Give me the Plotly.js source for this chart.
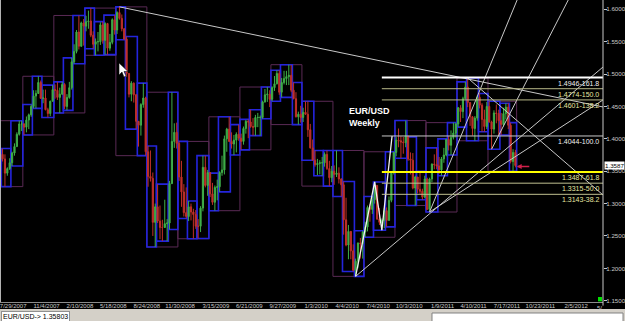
<!DOCTYPE html>
<html><head><meta charset="utf-8">
<script src="https://cdn.plot.ly/plotly-3.0.1.min.js"></script>
<style>html,body{margin:0;padding:0;background:#000;overflow:hidden}#chart{width:625px;height:321px}</style>
</head><body><div id="chart"></div>
<script>
// Weekly EUR/USD bars, week starting 2007-07-29
const firstWeek = '2007-07-29';
const opens = [
1.3680,1.3760,1.3690,1.3470,1.3540,1.3630,1.3780,1.3880,1.4070,1.4230,
1.4230,1.4180,1.4290,1.4370,1.4500,1.4660,1.4700,1.4870,1.4625,1.4630,
1.4450,1.4390,1.4580,
1.4760,1.4750,1.4640,1.4690,1.4840,1.4500,1.4640,1.4790,1.5190,1.5350,
1.5650,1.5430,1.5790,1.5740,1.5810,1.5820,1.5600,1.5460,1.5500,1.5500,
1.5760,1.5520,1.5780,1.5400,1.5490,1.5840,1.5680,1.5950,1.5860,1.5700,
1.5540,1.5010,1.4690,1.4860,1.4680,1.4270,1.4210,1.4530,1.4630,1.3800,
1.3420,1.3390,1.2710,1.2950,1.2730,1.2630,1.2630,1.2690,1.2700,1.3310,
1.3960,1.4100,
1.3930,1.3410,1.3180,1.2860,1.2800,1.2950,1.2870,1.2830,1.2650,1.2650,
1.2930,1.3560,1.3280,1.3480,1.3150,1.3020,1.3250,1.3260,1.3480,1.3520,
1.4000,1.4150,1.3960,1.3920,1.3980,1.4070,1.4010,1.3960,1.4160,1.4270,
1.4260,1.4190,1.4180,1.4330,1.4330,1.4330,1.4570,1.4680,1.4690,1.4610,
1.4790,1.4850,1.5010,1.4720,1.4870,1.4930,1.4960,1.4980,1.4750,1.4620,
1.4340,1.4380,
1.4330,1.4410,1.4380,1.4140,1.3860,1.3670,1.3600,1.3620,1.3630,1.3630,
1.3760,1.3540,1.3400,1.3500,1.3450,1.3470,1.3380,1.3290,1.2750,1.2360,
1.2570,1.2270,1.1970,1.2110,1.2390,1.2380,1.2560,1.2640,1.2940,1.2910,
1.3060,1.3280,1.2760,1.2710,1.2740,1.2890,1.2740,1.3050,1.3490,1.3790,
1.3980,1.3970,1.3950,1.3940,1.4040,1.3690,1.3670,1.3240,1.3410,1.3220,
1.3190,1.3100,
1.3380,1.2910,1.3380,1.3610,1.3600,1.3580,1.3520,1.3690,1.3750,1.3990,
1.3900,1.4020,1.4090,1.4230,1.4480,1.4420,1.4620,1.4800,1.4560,1.4340,
1.4160,1.4320,1.4640,1.4520,1.4300,1.4190,1.4500,1.4260,1.4150,1.4400,
1.4390,1.4280,1.4220,1.4390,1.4490,1.4210,1.3650,1.3790];
const highs = [
1.3790,1.3850,1.3760,1.3560,1.3700,1.3800,1.3930,1.4100,1.4280,1.4280,
1.4240,1.4345,1.4390,1.4530,1.4750,1.4750,1.4966,1.4900,1.4760,1.4760,
1.4480,1.4590,1.4830,
1.4840,1.4880,1.4790,1.4880,1.4860,1.4690,1.4880,1.5250,1.5460,1.5680,
1.5905,1.5810,1.5850,1.5900,1.5980,1.6019,1.5660,1.5550,1.5650,1.5800,
1.5810,1.5800,1.5790,1.5620,1.5860,1.5910,1.5970,1.6038,1.5920,1.5710,
1.5580,1.5010,1.4890,1.4870,1.4690,1.4240,1.4550,1.4860,1.4650,1.3890,
1.3820,1.3480,1.3000,1.3300,1.2970,1.2750,1.3060,1.2760,1.3350,1.4720,
1.4240,1.4250,
1.3960,1.3660,1.3300,1.3250,1.3040,1.3000,1.2920,1.2900,1.2760,1.2960,
1.3740,1.3740,1.3520,1.3470,1.3320,1.3280,1.3370,1.3500,1.3740,1.4050,
1.4170,1.4340,1.4100,1.4060,1.4100,1.4220,1.4080,1.4190,1.4290,1.4300,
1.4450,1.4320,1.4370,1.4400,1.4360,1.4590,1.4770,1.4800,1.4750,1.4810,
1.4970,1.5060,1.5060,1.4940,1.5050,1.5050,1.5145,1.5140,1.4870,1.4720,
1.4420,1.4510,
1.4480,1.4580,1.4580,1.4230,1.3990,1.3820,1.3690,1.3670,1.3720,1.3790,
1.3820,1.3660,1.3580,1.3590,1.3820,1.3560,1.3390,1.3340,1.3090,1.2670,
1.2500,1.2370,1.2150,1.2400,1.2470,1.2580,1.2720,1.2970,1.2990,1.3110,
1.3334,1.3250,1.2930,1.2770,1.2930,1.2940,1.3110,1.3500,1.3800,1.4030,
1.4160,1.4040,1.4030,1.4282,1.4030,1.3790,1.3780,1.3430,1.3400,1.3500,
1.3230,1.3430,
1.3400,1.3400,1.3620,1.3760,1.3860,1.3720,1.3720,1.3860,1.4000,1.4040,
1.4130,1.4250,1.4250,1.4490,1.4520,1.4650,1.4880,1.4940,1.4540,1.4350,
1.4350,1.4670,1.4700,1.4550,1.4450,1.4570,1.4580,1.4280,1.4440,1.4530,
1.4450,1.4400,1.4480,1.4550,1.4550,1.4250,1.3840,1.3830];
const lows = [
1.3620,1.3650,1.3262,1.3430,1.3520,1.3580,1.3740,1.3880,1.4050,1.4120,
1.4060,1.4100,1.4150,1.4340,1.4470,1.4470,1.4700,1.4620,1.4550,1.4440,
1.4330,1.4350,1.4580,
1.4620,1.4600,1.4400,1.4680,1.4460,1.4440,1.4620,1.4760,1.5160,1.5320,
1.5380,1.5420,1.5440,1.5660,1.5700,1.5570,1.5390,1.5290,1.5350,1.5450,
1.5470,1.5300,1.5300,1.5360,1.5460,1.5610,1.5620,1.5840,1.5660,1.5530,
1.4960,1.4640,1.4580,1.4560,1.4150,1.3880,1.4050,1.4480,1.3740,1.3260,
1.3340,1.2500,1.2330,1.2700,1.2450,1.2420,1.2680,1.2420,1.2600,1.3300,
1.3860,1.3850,
1.3350,1.2950,1.2800,1.2770,1.2730,1.2740,1.2457,1.2610,1.2460,1.2560,
1.2880,1.3250,1.3120,1.3100,1.2980,1.2890,1.3050,1.3180,1.3430,1.3450,
1.3800,1.3950,1.3850,1.3750,1.3790,1.3970,1.3830,1.3910,1.4080,1.4010,
1.4170,1.4050,1.4050,1.4180,1.4050,1.4310,1.4560,1.4570,1.4490,1.4580,
1.4740,1.4840,1.4680,1.4640,1.4840,1.4830,1.4830,1.4720,1.4610,1.4330,
1.4220,1.4250,
1.4260,1.4370,1.4030,1.3850,1.3670,1.3570,1.3440,1.3450,1.3430,1.3570,
1.3520,1.3270,1.3330,1.3290,1.3410,1.3310,1.3110,1.2520,1.2340,1.2140,
1.2140,1.1950,1.1876,1.2000,1.2150,1.2150,1.2480,1.2570,1.2720,1.2840,
1.3000,1.2750,1.2670,1.2588,1.2620,1.2640,1.2740,1.3020,1.3450,1.3730,
1.3870,1.3700,1.3770,1.3870,1.3660,1.3450,1.3220,1.2970,1.3160,1.3150,
1.3060,1.3080,
1.2900,1.2870,1.3330,1.3530,1.3530,1.3460,1.3430,1.3630,1.3730,1.3820,
1.3750,1.3990,1.4020,1.4180,1.4260,1.4320,1.4610,1.4490,1.4200,1.4050,
1.3970,1.4280,1.4470,1.4110,1.4110,1.4150,1.4250,1.3840,1.4080,1.4240,
1.4050,1.4060,1.4190,1.4300,1.4150,1.3620,1.3500,1.3560];
const closes = [
1.3760,1.3690,1.3470,1.3540,1.3630,1.3780,1.3880,1.4070,1.4230,1.4230,
1.4180,1.4290,1.4370,1.4500,1.4660,1.4700,1.4870,1.4625,1.4630,1.4450,
1.4390,1.4580,1.4760,
1.4750,1.4640,1.4690,1.4840,1.4500,1.4640,1.4790,1.5190,1.5350,1.5650,
1.5430,1.5790,1.5740,1.5810,1.5820,1.5600,1.5460,1.5500,1.5500,1.5760,
1.5520,1.5780,1.5400,1.5490,1.5840,1.5680,1.5950,1.5860,1.5700,1.5540,
1.5010,1.4690,1.4860,1.4680,1.4270,1.4210,1.4530,1.4630,1.3800,1.3420,
1.3390,1.2710,1.2950,1.2730,1.2630,1.2630,1.2690,1.2700,1.3310,1.3960,
1.4100,1.3930,
1.3410,1.3180,1.2860,1.2800,1.2950,1.2870,1.2830,1.2650,1.2650,1.2930,
1.3560,1.3280,1.3480,1.3150,1.3020,1.3250,1.3260,1.3480,1.3520,1.4000,
1.4150,1.3960,1.3920,1.3980,1.4070,1.4010,1.3960,1.4160,1.4270,1.4260,
1.4190,1.4180,1.4330,1.4330,1.4330,1.4570,1.4680,1.4690,1.4610,1.4790,
1.4850,1.5010,1.4720,1.4870,1.4930,1.4960,1.4980,1.4750,1.4620,1.4340,
1.4380,1.4330,
1.4410,1.4380,1.4140,1.3860,1.3670,1.3600,1.3620,1.3630,1.3630,1.3760,
1.3540,1.3400,1.3500,1.3450,1.3470,1.3380,1.3290,1.2750,1.2360,1.2570,
1.2270,1.1970,1.2110,1.2390,1.2380,1.2560,1.2640,1.2940,1.2910,1.3060,
1.3280,1.2760,1.2710,1.2740,1.2890,1.2740,1.3050,1.3490,1.3790,1.3980,
1.3970,1.3950,1.3940,1.4040,1.3690,1.3670,1.3240,1.3410,1.3220,1.3190,
1.3100,1.3380,
1.2910,1.3380,1.3610,1.3600,1.3580,1.3520,1.3690,1.3750,1.3990,1.3900,
1.4020,1.4090,1.4230,1.4480,1.4420,1.4620,1.4800,1.4560,1.4340,1.4160,
1.4320,1.4640,1.4520,1.4300,1.4190,1.4500,1.4260,1.4150,1.4400,1.4390,
1.4280,1.4220,1.4390,1.4490,1.4210,1.3650,1.3790,1.3587];

const tickDates = ['2007-07-29','2007-11-04','2008-02-10','2008-05-18','2008-08-24','2008-11-30','2009-03-15','2009-06-21','2009-09-27','2010-01-03','2010-04-04','2010-07-04','2010-10-03','2011-01-09','2011-04-10','2011-07-17','2011-10-23','2012-02-05'];
const tickLabels = ['7/29/2007','11/4/2007','2/10/2008','5/18/2008','8/24/2008','11/30/2008','3/15/2009','6/21/2009','9/27/2009','1/3/2010','4/4/2010','7/4/2010','10/3/2010','1/9/2011','4/10/2011','7/17/2011','10/23/2011','2/5/2012'];
const cutLabel = '5/';
const priceTicks = [1.15,1.20,1.25,1.30,1.35,1.40,1.45,1.50,1.55,1.60];
const priceTickLabels = ['1.1500','1.2000','1.2500','1.3000','1.3500','1.4000','1.4500','1.5000','1.5500','1.6000'];

const fibStart = '2010-08-22';
const fibPrices = [1.4946,1.4774,1.4601,1.4044,1.3487,1.3315,1.3143];
const fibLabels = ['1.4946-161.8','1.4774-150.0','1.4601-138.2','1.4044-100.0','1.3487-61.8','1.3315-50.0','1.3143-38.2'];

const zigzagDates = ['2010-06-06','2010-08-01','2010-08-22','2010-09-21'];
const zigzagPrices = [1.1876,1.3334,1.2588,1.4044];

const trendStartDates  = ['2008-07-13','2011-05-01','2010-06-06','2011-01-09','2011-07-10','2011-01-09'];
const trendStartPrices = [1.6038,1.4940,1.1876,1.2870,1.3840,1.2870];
const trendEndDates    = ['2012-06-01','2012-06-01','2012-06-01','2011-09-23','2012-02-20','2012-06-01'];
const trendEndPrices   = [1.4492,1.3133,1.5109,1.6144,1.6144,1.4600];

const lastPrice = 1.3587;
const statusText = 'EUR/USD-> 1.35803';
const chartTitle = 'EUR/USD<br>Weekly';

// ---- build ----
const DAY = 864e5;
const t0 = Date.parse(firstWeek + 'T00:00:00Z');
const weekMs = closes.map((_, i) => t0 + i * 7 * DAY);
const dates = weekMs.map(ms => new Date(ms).toISOString().slice(0, 10));
const iso = ms => new Date(ms).toISOString().slice(0, 19).replace('T', ' ');

function ranges(keyOf) {
  const out = [];
  weekMs.forEach((ms, i) => {
    const k = keyOf(new Date(ms));
    const g = out[out.length - 1];
    if (!g || g.key !== k) out.push({key: k, first: i, last: i, hi: highs[i], lo: lows[i]});
    else { g.last = i; g.hi = Math.max(g.hi, highs[i]); g.lo = Math.min(g.lo, lows[i]); }
  });
  return out;
}
const quarterBoxes = ranges(d => d.getUTCFullYear() * 4 + Math.floor(d.getUTCMonth() / 3));
const monthBoxes = ranges(d => d.getUTCFullYear() * 12 + d.getUTCMonth());

const shapes = [];
const boxShape = (g, color, w) => ({
  type: 'rect', xref: 'x', yref: 'y', layer: 'below',
  x0: iso(weekMs[g.first] - 3.5 * DAY), x1: iso(weekMs[g.last] + 3.5 * DAY),
  y0: g.lo, y1: g.hi, line: {color: color, width: w}, fillcolor: 'rgba(0,0,0,0)'
});
quarterBoxes.forEach(g => shapes.push(boxShape(g, '#5a2a55', 1)));
monthBoxes.forEach(g => shapes.push(boxShape(g, '#2424dc', 1.6)));

const xEnd = '2012-06-01';
const fibColors = ['#ffffff','#b8b888','#b8b888','#c8c8c8','#ffff00','#c0c090','#c0c090'];
const fibWidths = [2,1,1,1,2,1,1];
const fibTextColors = ['#f0f0f0','#e6e6a0','#e6e6a0','#f0f0f0','#e6e6a0','#e6e6a0','#e6e6a0'];
fibPrices.forEach((p, i) => shapes.push({
  type: 'line', xref: 'x', yref: 'y', x0: fibStart, x1: xEnd, y0: p, y1: p,
  line: {color: fibColors[i], width: fibWidths[i]}
}));

// decorations in paper coordinates
shapes.push({type:'line', xref:'paper', yref:'paper', x0:0.0008, x1:0.0008, y0:0, y1:1, line:{color:'#b8b8b8', width:1}});
shapes.push({type:'line', xref:'paper', yref:'paper', x0:1, x1:1, y0:-0.012, y1:1, line:{color:'#c8c8c8', width:1}});
shapes.push({type:'rect', xref:'paper', yref:'paper', x0:-0.01, x1:1.04, y0:-0.0232, y1:-0.07, fillcolor:'#d4d0c8', line:{width:0}});
shapes.push({type:'rect', xref:'paper', yref:'paper', x0:0.7164, x1:1.0332, y0:-0.0364, y1:-0.066, fillcolor:'#ffffff', line:{color:'#808080', width:1}});
shapes.push({type:'rect', xref:'paper', yref:'paper', x0:0.9917, x1:0.9983, y0:0.002, y1:0.0166, fillcolor:'#00e000', line:{width:0}});
shapes.push({type:'path', xref:'paper', yref:'paper',
  path:'M0.1974,0.7914 L0.1974,0.7517 L0.2023,0.7616 L0.2056,0.7450 L0.2090,0.7483 L0.2056,0.7632 L0.2123,0.7632 Z',
  fillcolor:'#ffffff', line:{color:'#000000', width:0.5}});

const traces = [{
  type: 'candlestick', x: dates, open: opens, high: highs, low: lows, close: closes,
  increasing: {line: {color: '#3fae49', width: 1}, fillcolor: '#3fae49'},
  decreasing: {line: {color: '#c0302a', width: 1}, fillcolor: '#c0302a'},
  whiskerwidth: 0, hoverinfo: 'skip', showlegend: false
}];
trendStartDates.forEach((d, i) => traces.push({
  type: 'scatter', mode: 'lines', x: [d, trendEndDates[i]], y: [trendStartPrices[i], trendEndPrices[i]],
  line: {color: '#c8c8c8', width: 1}, hoverinfo: 'skip', showlegend: false
}));
traces.push({type:'scatter', mode:'lines', x: zigzagDates, y: zigzagPrices,
  line:{color:'#f2f2f2', width:1.3}, hoverinfo:'skip', showlegend:false});

const FONT = 'Liberation Sans, Arial, sans-serif';
const annotations = fibLabels.map((t, i) => ({
  xref: 'paper', yref: 'y', x: 0.996, y: fibPrices[i], xanchor: 'right', yanchor: 'top',
  text: t, showarrow: false, font: {family: FONT, size: 7, color: fibTextColors[i]}
}));
annotations.push({xref:'paper', yref:'paper', x:0.5755, y:0.655, xanchor:'left', yanchor:'top', align:'left',
  text:'<b>' + chartTitle.replace('<br>', '</b><br><b>') + '</b>', showarrow:false,
  font:{family:FONT, size:9, color:'#ffffff'}});
annotations.push({xref:'paper', yref:'y', x:1.001, y:lastPrice, xanchor:'left', yanchor:'middle',
  text:lastPrice.toFixed(4), showarrow:false, bgcolor:'#ffffff', borderpad:0,
  font:{family:FONT, size:6.2, color:'#000000'}});
annotations.push({xref:'paper', yref:'paper', x:0.001, y:-0.0464, xanchor:'left', yanchor:'middle',
  text:statusText, showarrow:false, bgcolor:'#ffffff', bordercolor:'#909090', borderwidth:1, borderpad:1,
  font:{family:FONT, size:7, color:'#000000'}});
annotations.push({xref:'paper', yref:'paper', x:0.9865, y:-0.002, xanchor:'left', yanchor:'top',
  text:cutLabel, showarrow:false, font:{family:FONT, size:6, color:'#c8c8c8'}});
annotations.push({xref:'x', yref:'y', x:'2011-09-22', y:lastPrice - 0.0015, ax:14, ay:0, text:'',
  showarrow:true, arrowhead:2, arrowsize:0.7, arrowwidth:1.4, arrowcolor:'#d0204a'});

const layout = {
  width: 625, height: 321, margin: {l: 0, r: 22, t: 0, b: 19},
  paper_bgcolor: '#000000', plot_bgcolor: '#000000', showlegend: false,
  xaxis: {type: 'date', range: ['2007-07-28 12:00', xEnd], tickmode: 'array', tickvals: tickDates, ticktext: tickLabels,
    tickangle: 0, ticklabelshift: 13, ticklabelstandoff: -2, ticklabeloverflow: 'allow',
    tickfont: {family: FONT, size: 6, color: '#c8c8c8'},
    showgrid: false, zeroline: false, showline: true, linecolor: '#8c8c8c', linewidth: 1, ticks: '',
    rangeslider: {visible: false}, fixedrange: true},
  yaxis: {side: 'right', range: [1.1480, 1.6144], tickmode: 'array', tickvals: priceTicks, ticktext: priceTickLabels,
    tickfont: {family: FONT, size: 6.2, color: '#c8c8c8'}, ticklabelstandoff: -2,
    ticks: 'outside', ticklen: 3, tickcolor: '#c8c8c8', showline: false, showgrid: false, zeroline: false, fixedrange: true},
  shapes: shapes, annotations: annotations
};
Plotly.newPlot('chart', traces, layout, {staticPlot: true, displayModeBar: false});
</script></body></html>
